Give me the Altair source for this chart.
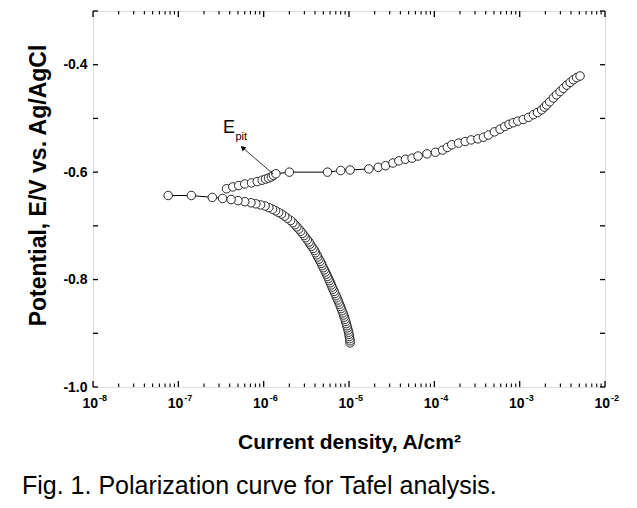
import altair as alt
import pandas as pd

# ---------------- data ----------------
# cathodic branch (current density A/cm2, potential V) in scan order
cath_current = [1.03e-5, 1.03e-5, 1.02e-5, 1.01e-5, 1.00e-5, 9.9e-6, 9.75e-6, 9.6e-6, 9.45e-6, 9.3e-6,
                9.15e-6, 9.0e-6, 8.8e-6, 8.65e-6, 8.5e-6, 8.3e-6, 8.1e-6, 7.95e-6, 7.75e-6, 7.55e-6,
                7.4e-6, 7.2e-6, 7.05e-6, 6.85e-6, 6.7e-6, 6.5e-6, 6.35e-6, 6.2e-6, 6.05e-6, 5.9e-6,
                5.75e-6, 5.6e-6, 5.45e-6, 5.3e-6, 5.15e-6, 5.0e-6, 4.85e-6, 4.75e-6, 4.6e-6, 4.45e-6,
                4.3e-6, 4.2e-6, 4.05e-6, 3.95e-6, 3.8e-6, 3.65e-6, 3.5e-6, 3.4e-6, 3.25e-6, 3.1e-6,
                2.98e-6, 2.85e-6, 2.72e-6, 2.58e-6, 2.45e-6, 2.33e-6, 2.2e-6, 2.07e-6, 1.9e-6, 1.76e-6,
                1.62e-6, 1.5e-6, 1.38e-6, 1.27e-6, 1.15e-6, 1.04e-6, 9.2e-7, 8.1e-7, 7.1e-7, 6.0e-7,
                5.0e-7, 4.15e-7, 3.3e-7, 2.5e-7, 1.42e-7, 7.6e-8]
cath_potential = [-0.918, -0.914, -0.910, -0.906, -0.902, -0.898, -0.894, -0.890, -0.886, -0.882,
                  -0.878, -0.874, -0.870, -0.866, -0.862, -0.858, -0.854, -0.850, -0.846, -0.842,
                  -0.838, -0.834, -0.830, -0.826, -0.822, -0.818, -0.814, -0.810, -0.806, -0.802,
                  -0.798, -0.794, -0.790, -0.786, -0.782, -0.778, -0.774, -0.770, -0.766, -0.762,
                  -0.758, -0.754, -0.750, -0.746, -0.742, -0.738, -0.734, -0.730, -0.726, -0.722,
                  -0.718, -0.714, -0.710, -0.706, -0.702, -0.698, -0.694, -0.690, -0.686, -0.682,
                  -0.678, -0.675, -0.672, -0.669, -0.666, -0.663, -0.661, -0.659, -0.657, -0.655,
                  -0.653, -0.651, -0.649, -0.647, -0.6435, -0.6435]

# anodic branch
anod_current = [3.67e-7, 4.35e-7, 5.1e-7, 6.0e-7, 7.2e-7, 8.4e-7, 9.6e-7, 1.05e-6, 1.14e-6, 1.23e-6,
                1.30e-6, 1.39e-6, 2.0e-6, 5.6e-6, 8.0e-6, 1.03e-5, 1.71e-5, 2.2e-5, 2.68e-5, 3.27e-5,
                3.84e-5, 4.58e-5, 5.48e-5, 6.44e-5, 8.2e-5, 1.03e-4, 1.25e-4, 1.42e-4, 1.6e-4, 1.92e-4,
                2.3e-4, 2.7e-4, 3.24e-4, 3.77e-4, 4.3e-4, 5.06e-4, 5.9e-4, 6.7e-4, 7.5e-4, 8.4e-4,
                9.5e-4, 1.1e-3, 1.27e-3, 1.45e-3, 1.62e-3, 1.81e-3, 1.95e-3, 2.07e-3, 2.25e-3, 2.48e-3,
                2.7e-3, 2.97e-3, 3.25e-3, 3.56e-3, 3.9e-3, 4.26e-3, 4.65e-3, 5.1e-3]
anod_potential = [-0.631, -0.6275, -0.625, -0.622, -0.620, -0.6175, -0.615, -0.613, -0.611, -0.609,
                  -0.606, -0.603, -0.600, -0.600, -0.597, -0.596, -0.594, -0.591, -0.588, -0.583,
                  -0.579, -0.576, -0.574, -0.570, -0.566, -0.563, -0.559, -0.554, -0.549, -0.546,
                  -0.543, -0.540, -0.538, -0.535, -0.531, -0.525, -0.520, -0.515, -0.511, -0.508,
                  -0.505, -0.502, -0.498, -0.493, -0.489, -0.484, -0.479, -0.475, -0.469, -0.462,
                  -0.456, -0.450, -0.444, -0.438, -0.433, -0.428, -0.424, -0.421]

# axis ticks / labels
x_decades = [1e-8, 1e-7, 1e-6, 1e-5, 1e-4, 1e-3, 1e-2]
x_exponents = ["-8", "-7", "-6", "-5", "-4", "-3", "-2"]
x_minor = [m * d for d in x_decades[:-1] for m in range(2, 10)]
y_tick_values = [-1.0, -0.9, -0.8, -0.7, -0.6, -0.5, -0.4, -0.3]
y_label_values = [-1.0, -0.8, -0.6, -0.4]

# annotation (E_pit arrow)
arrow_x = [1.29e-6, 5.77e-7]
arrow_y = [-0.6034, -0.5555]
epit_main = {"x": 3.33e-7, "y": -0.527, "t": "E"}
epit_sub = {"x": 4.67e-7, "y": -0.540, "t": "pit"}

caption = "Fig. 1. Polarization curve for Tafel analysis."
x_title = "Current density, A/cm\u00b2"
y_title = "Potential, E/V vs. Ag/AgCl"

# ---------------- chart ----------------
W, H = 512, 376
FONT = "Liberation Sans"

curve = pd.concat([
    pd.DataFrame({"x": cath_current, "y": cath_potential, "branch": "c",
                  "idx": range(len(cath_current))}),
    pd.DataFrame({"x": anod_current, "y": anod_potential, "branch": "a",
                  "idx": range(len(anod_current))}),
], ignore_index=True)

xscale = alt.Scale(type="log", domain=[1e-8, 1e-2], nice=False)
yscale = alt.Scale(domain=[-1.0, -0.3], nice=False, zero=False)

xaxis = alt.Axis(labels=False, ticks=False, domain=False, grid=False, title=x_title,
                 titleFont=FONT, titleFontSize=21, titleFontWeight="bold", titleColor="black",
                 titleX=W / 2, titleY=61, titleBaseline="alphabetic", titleAlign="center")
yaxis = alt.Axis(values=y_label_values,
                 labelExpr="replace(format(datum.value, '.1f'), '\u2212', '-')",
                 labelFont=FONT, labelFontSize=14, labelFontWeight="bold", labelColor="black",
                 labelPadding=6, ticks=False, domain=False, grid=False, title=y_title,
                 titleFont=FONT, titleFontSize=23, titleFontWeight="bold", titleColor="black",
                 titleX=-48, titleY=174, titleAngle=-90, titleBaseline="alphabetic",
                 titleAlign="center")


def X(field="x"):
    return alt.X(field, type="quantitative", scale=xscale, axis=xaxis)


def Y(field="y"):
    return alt.Y(field, type="quantitative", scale=yscale, axis=yaxis)


line = alt.Chart(curve).mark_line(color="black", strokeWidth=1).encode(
    x=X(), y=Y(), detail="branch:N", order="idx:Q")
pts = alt.Chart(curve).mark_point(shape="circle", filled=True, fill="white", stroke="#111111",
                                  strokeWidth=0.9, size=72, opacity=1).encode(x=X(), y=Y())

# ticks (inward, all four sides)
maj = pd.DataFrame({"x": x_decades})
mnr = pd.DataFrame({"x": x_minor})
yt = pd.DataFrame({"y": y_tick_values})
tick_layers = [
    alt.Chart(maj).mark_rule(color="black", strokeWidth=1.3).encode(x=X(), y=alt.value(H), y2=alt.value(H - 6)),
    alt.Chart(maj).mark_rule(color="black", strokeWidth=1.3).encode(x=X(), y=alt.value(0), y2=alt.value(6)),
    alt.Chart(mnr).mark_rule(color="black", strokeWidth=1.1).encode(x=X(), y=alt.value(H), y2=alt.value(H - 3.5)),
    alt.Chart(mnr).mark_rule(color="black", strokeWidth=1.1).encode(x=X(), y=alt.value(0), y2=alt.value(3.5)),
    alt.Chart(yt).mark_rule(color="black", strokeWidth=1.3).encode(y=Y(), x=alt.value(0), x2=alt.value(5)),
    alt.Chart(yt).mark_rule(color="black", strokeWidth=1.3).encode(y=Y(), x=alt.value(W - 5), x2=alt.value(W)),
]

# x tick labels 10^n
lab = pd.DataFrame({"x": x_decades, "base": ["10"] * len(x_decades), "exp": x_exponents})
lab_base = alt.Chart(lab).mark_text(align="right", baseline="alphabetic", dx=5, font=FONT,
                                    fontSize=14, fontWeight="bold", color="black").encode(
    x=X(), y=alt.value(H + 21), text="base:N")
lab_exp = alt.Chart(lab).mark_text(align="left", baseline="alphabetic", dx=6, font=FONT,
                                   fontSize=9, fontWeight="bold", color="black").encode(
    x=X(), y=alt.value(H + 14), text="exp:N")

# E_pit annotation
arr = pd.DataFrame({"x": arrow_x, "y": arrow_y, "o": [0, 1]})
arrow_line = alt.Chart(arr).mark_line(color="black", strokeWidth=0.8).encode(x=X(), y=Y(), order="o:Q")
arrow_head = alt.Chart(arr.iloc[[1]]).mark_point(shape="triangle", filled=True, color="black",
                                                 size=32, angle=311, opacity=1).encode(x=X(), y=Y())
e_main = alt.Chart(pd.DataFrame([epit_main])).mark_text(align="left", baseline="alphabetic", font=FONT,
                                                        fontSize=18, color="black").encode(
    x=X(), y=Y(), text="t:N")
e_sub = alt.Chart(pd.DataFrame([epit_sub])).mark_text(align="left", baseline="alphabetic", font=FONT,
                                                      fontSize=11, color="black").encode(
    x=X(), y=Y(), text="t:N")

cap = alt.Chart(pd.DataFrame({"t": [caption]})).mark_text(align="left", baseline="alphabetic",
                                                          font=FONT, fontSize=25, color="black").encode(
    x=alt.value(-71), y=alt.value(483), text="t:N")

chart = alt.layer(line, pts, *tick_layers, lab_base, lab_exp, arrow_line, arrow_head, e_main, e_sub, cap)
chart = chart.properties(
    width=W, height=H,
    padding={"left": 85, "top": 3, "right": 24, "bottom": 120},
    autosize=alt.AutoSizeParams(type="none"),
).configure_view(stroke="black", strokeWidth=1.7).configure(background="white")

chart.save("out.html", embed_options={"renderer": "svg", "actions": False})
